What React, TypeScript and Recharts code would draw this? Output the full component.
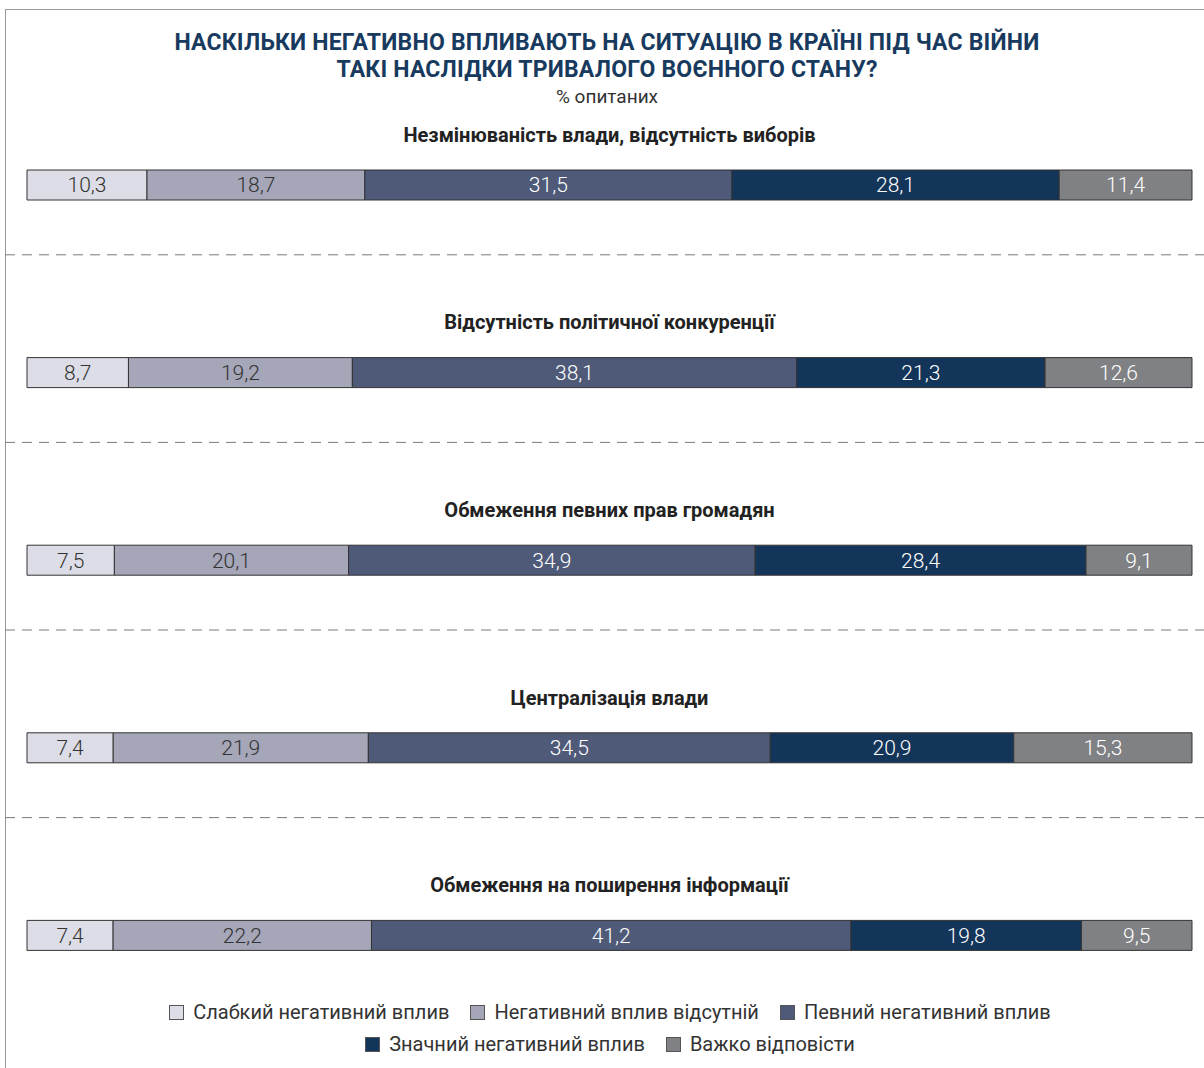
import React from 'react';
import { BarChart, Bar, XAxis, YAxis, Legend, LabelList } from 'recharts';

const categories = [
  'Незмінюваність влади, відсутність виборів',
  'Відсутність політичної конкуренції',
  'Обмеження певних прав громадян',
  'Централізація влади',
  'Обмеження на поширення інформації',
];
const weak = [10.3, 8.7, 7.5, 7.4, 7.4];
const absent = [18.7, 19.2, 20.1, 21.9, 22.2];
const certain = [31.5, 38.1, 34.9, 34.5, 41.2];
const significant = [28.1, 21.3, 28.4, 20.9, 19.8];
const hard = [11.4, 12.6, 9.1, 15.3, 9.5];

const series = [
  { key: 'weak', name: 'Слабкий негативний вплив', color: '#dcdde6', text: '#333333' },
  { key: 'absent', name: 'Негативний вплив відсутній', color: '#a5a6b8', text: '#333333' },
  { key: 'certain', name: 'Певний негативний вплив', color: '#4e5a78', text: '#ffffff' },
  { key: 'significant', name: 'Значний негативний вплив', color: '#13355a', text: '#ffffff' },
  { key: 'hard', name: 'Важко відповісти', color: '#808184', text: '#ffffff' },
];

const data = categories.map((name, i) => ({
  name,
  weak: weak[i],
  absent: absent[i],
  certain: certain[i],
  significant: significant[i],
  hard: hard[i],
}));

const W = 1204;
const H = 1068;
const MARGIN = { top: 91, right: 12, bottom: 39, left: 26 };
const CENTER_X = (MARGIN.left + 1 + W - MARGIN.right) / 2;
const FONT = 'Roboto, "Noto Sans", sans-serif';

const fmt = (v: any) => String(v).replace('.', ',');

const renderCategoryTick = (props: any) => {
  const { y, payload } = props;
  const isLast = payload.value === categories[categories.length - 1];
  return (
    <g key={payload.value}>
      <text
        x={CENTER_X}
        y={y - 50}
        textAnchor="middle"
        dominantBaseline="central"
        fontFamily={FONT}
        fontWeight={700}
        fontSize={20}
        fill="#222222"
      >
        {payload.value}
      </text>
      {!isLast && (
        <line x1={5} x2={W} y1={y + 70} y2={y + 70} stroke="#7a7a7a" strokeWidth={1} strokeDasharray="10 7" />
      )}
    </g>
  );
};

const renderLegend = (props: any) => {
  const order = series.map((s) => s.name);
  const items = [...(props.payload || [])].sort(
    (a: any, b: any) => order.indexOf(a.value) - order.indexOf(b.value)
  );
  const rows = [items.slice(0, 3), items.slice(3)];
  return (
    <div style={{ fontFamily: FONT, fontSize: 20, color: '#333333' }}>
      {rows.map((row: any[], r: number) => (
        <div key={r} style={{ display: 'flex', justifyContent: 'center', height: 32, alignItems: 'center' }}>
          {row.map((item: any, i: number) => (
            <div key={i} style={{ display: 'flex', alignItems: 'center', marginLeft: i === 0 ? 0 : 21 }}>
              <span
                style={{
                  display: 'inline-block',
                  width: 13,
                  height: 13,
                  background: item.color,
                  border: '1px solid #555555',
                  marginRight: 9,
                }}
              />
              <span>{item.value}</span>
            </div>
          ))}
        </div>
      ))}
    </div>
  );
};

export default function App() {
  return (
    <div style={{ position: 'relative', width: W, height: H, overflow: 'hidden', background: '#ffffff' }}>
      <style>{'body{margin:0}'}</style>
      <div
        style={{
          position: 'absolute',
          left: 5,
          top: 9,
          width: W + 20,
          height: H + 20,
          border: '1px solid #9a9a9a',
        }}
      />
      <div
        style={{
          position: 'absolute',
          top: 29,
          left: 5,
          width: W,
          textAlign: 'center',
          fontFamily: FONT,
        }}
      >
        <div style={{ fontSize: 23, lineHeight: '27px', fontWeight: 700, color: '#173a5e', letterSpacing: 0.2 }}>
          НАСКІЛЬКИ НЕГАТИВНО ВПЛИВАЮТЬ НА СИТУАЦІЮ В КРАЇНІ ПІД ЧАС ВІЙНИ
          <br />
          ТАКІ НАСЛІДКИ ТРИВАЛОГО ВОЄННОГО СТАНУ?
        </div>
        <div style={{ fontSize: 19, lineHeight: '27px', color: '#333333' }}>% опитаних</div>
      </div>
      <div style={{ position: 'absolute', left: 0, top: 0 }}>
        <BarChart width={W} height={H} data={data} layout="vertical" stackOffset="expand" margin={MARGIN}>
          <XAxis type="number" domain={[0, 1]} hide />
          <YAxis
            type="category"
            dataKey="name"
            width={1}
            axisLine={false}
            tickLine={false}
            interval={0}
            tick={renderCategoryTick}
          />
          <Legend
            layout="horizontal"
            verticalAlign="middle"
            align="center"
            wrapperStyle={{ top: 996, left: 8, width: W }}
            content={renderLegend}
          />
          {series.map((s) => (
            <Bar
              key={s.key}
              dataKey={s.key}
              name={s.name}
              stackId="a"
              fill={s.color}
              stroke="#333333"
              strokeWidth={1}
              barSize={30}
              isAnimationActive={false}
            >
              <LabelList
                dataKey={s.key}
                position="center"
                formatter={fmt}
                fill={s.text}
                fontFamily={FONT}
                fontWeight={300}
                fontSize={21}
              />
            </Bar>
          ))}
        </BarChart>
      </div>
    </div>
  );
}
